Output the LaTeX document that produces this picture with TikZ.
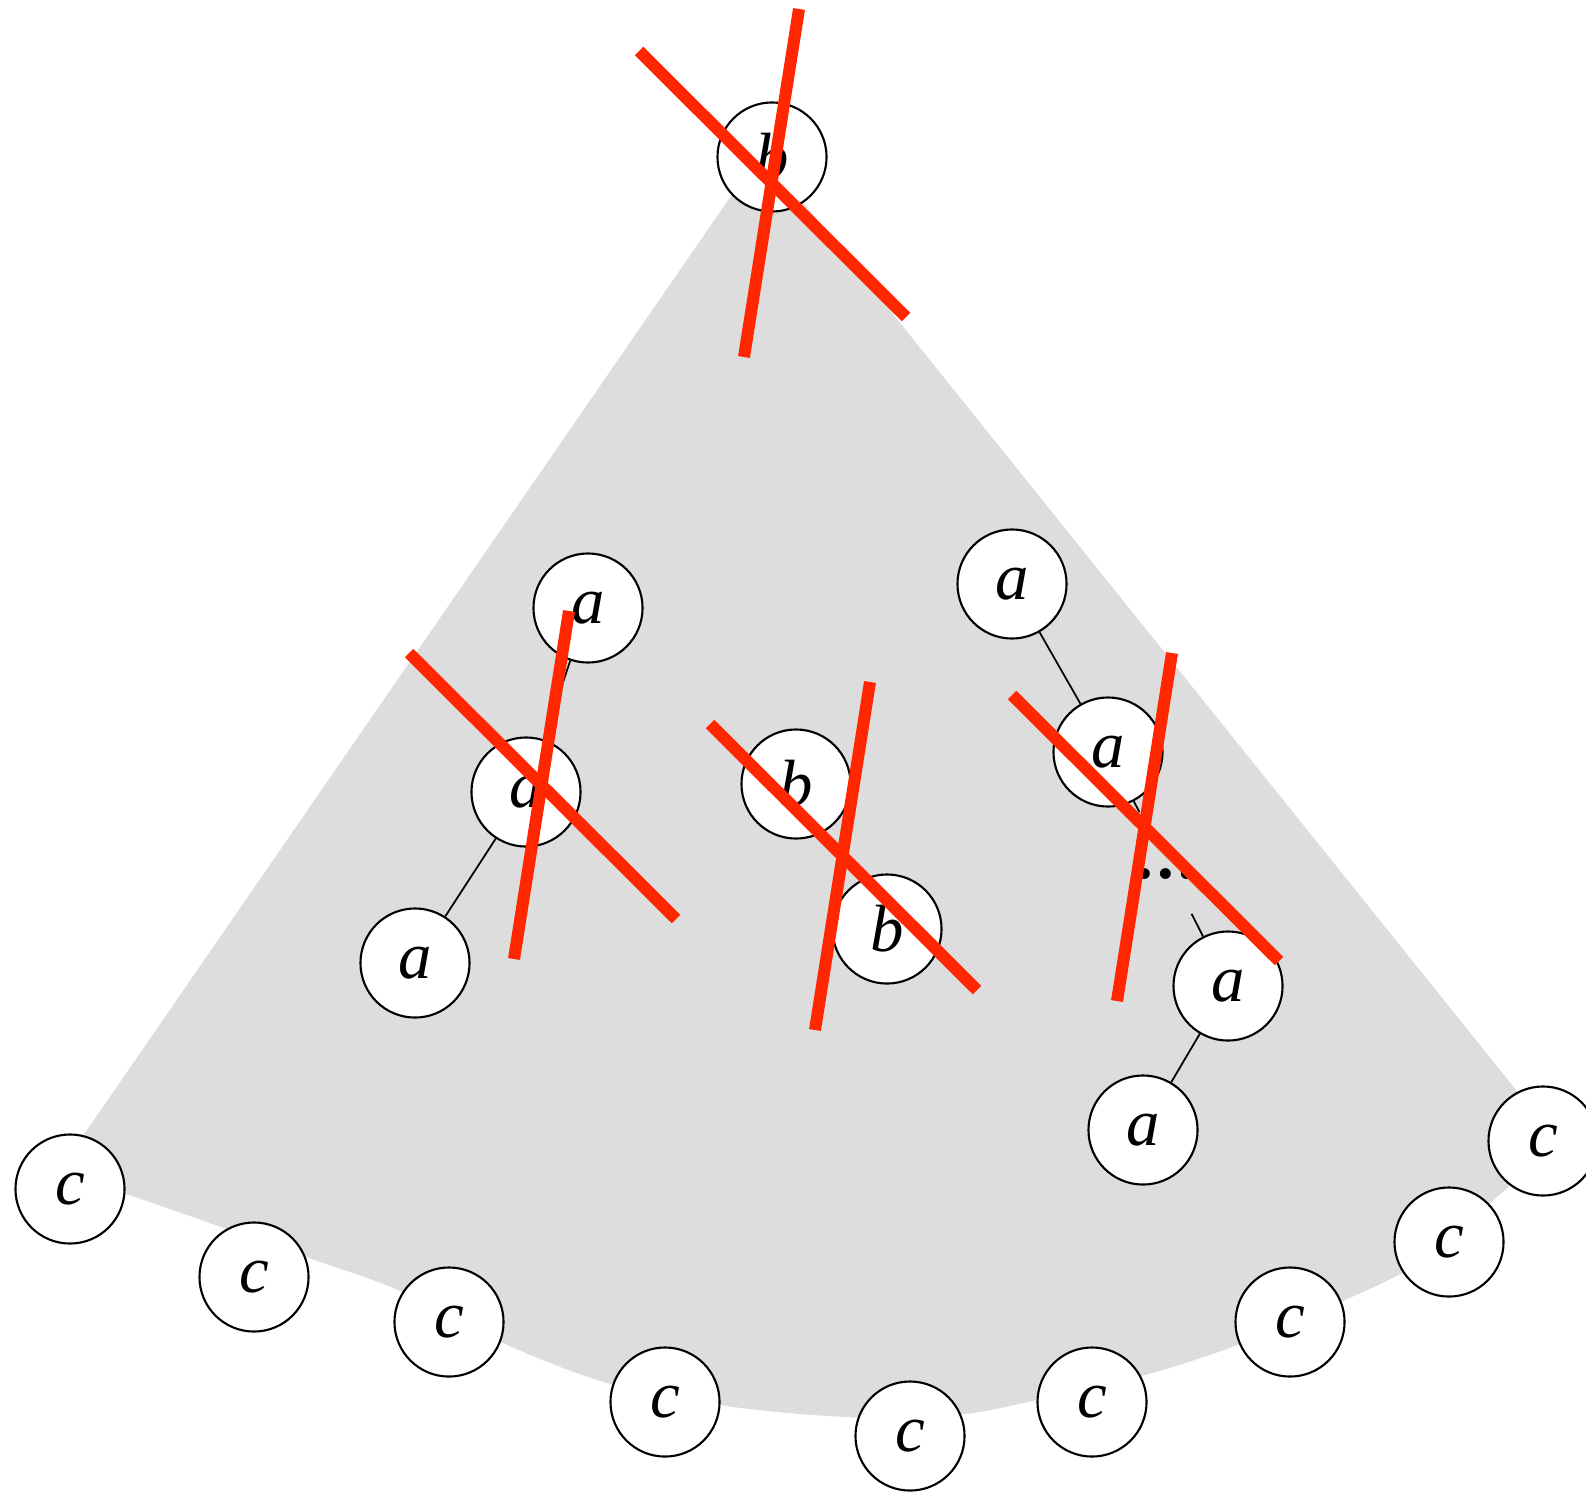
\documentclass[tikz,border=0pt]{standalone}
\usepackage{fontspec}
\setmainfont{Liberation Serif}
\usetikzlibrary{backgrounds}
\definecolor{strikered}{RGB}{255,38,0}
\definecolor{fangray}{RGB}{221,221,221}
\begin{document}
\begin{tikzpicture}[x=0.01cm,y=-0.01cm,
  vert/.style={circle,draw,line width=0.6pt,fill=white,minimum size=1.09cm,inner sep=0pt,
    font=\fontsize{19}{19}\selectfont\itshape},
  link/.style={line width=0.5pt},
  redbar/.style={strikered,line width=0.12cm},
  strike/.pic={\draw[redbar] (0,0) -- (267,266); \draw[redbar] (160,-42) -- (105,306);}]
\useasboundingbox (0,0) rectangle (1586,1491);

% nodes
\node[vert] (bT) at (772,157) {b};
\node[vert] (a1) at (588,608) {a};
\node[vert] (a2) at (526,792) {a};
\node[vert] (a3) at (415,963) {a};
\node[vert] (b2) at (796,784) {b};
\node[vert] (b3) at (887,929) {b};
\node[vert] (a4) at (1012,584) {a};
\node[vert] (a5) at (1108,752) {a};
\node[inner sep=0pt,text height=0.65cm,text depth=0.35cm,
  font=\fontsize{19}{19}\selectfont\bfseries] (dots) at (1166,863) {.\kern0.045cm.\kern0.045cm.};
\node[vert] (a6) at (1228,986) {a};
\node[vert] (a7) at (1143,1130) {a};
\node[vert] (c1) at (70,1189) {c};
\node[vert] (c2) at (254,1277) {c};
\node[vert] (c3) at (449,1322) {c};
\node[vert] (c4) at (665,1402) {c};
\node[vert] (c5) at (910,1436) {c};
\node[vert] (c6) at (1092,1402) {c};
\node[vert] (c7) at (1290,1322) {c};
\node[vert] (c8) at (1449,1242) {c};
\node[vert] (c9) at (1543,1141) {c};

% edges
\draw[link] (a1) -- (a2) (a2) -- (a3) (a4) -- (a5) (a5) -- (dots) (dots) -- (a6) (a6) -- (a7);

% shaded cone
\begin{pgfonlayer}{background}
\fill[fangray] (762,151) -- (56,1175) -- plot[smooth] coordinates {(56,1175) (126,1194) (306,1257) (398,1290) (505,1344) (607,1383) (720,1405) (800,1414) (880,1418) (965,1414) (1037,1400) (1145,1375) (1232,1347) (1345,1300) (1420,1262) (1505,1190) (1557,1141)} -- cycle;
\end{pgfonlayer}

% red strikes
\pic at (639,51) {strike};
\pic at (409,653) {strike};
\pic at (710,724) {strike};
\pic at (1012,695) {strike};
\end{tikzpicture}
\end{document}
